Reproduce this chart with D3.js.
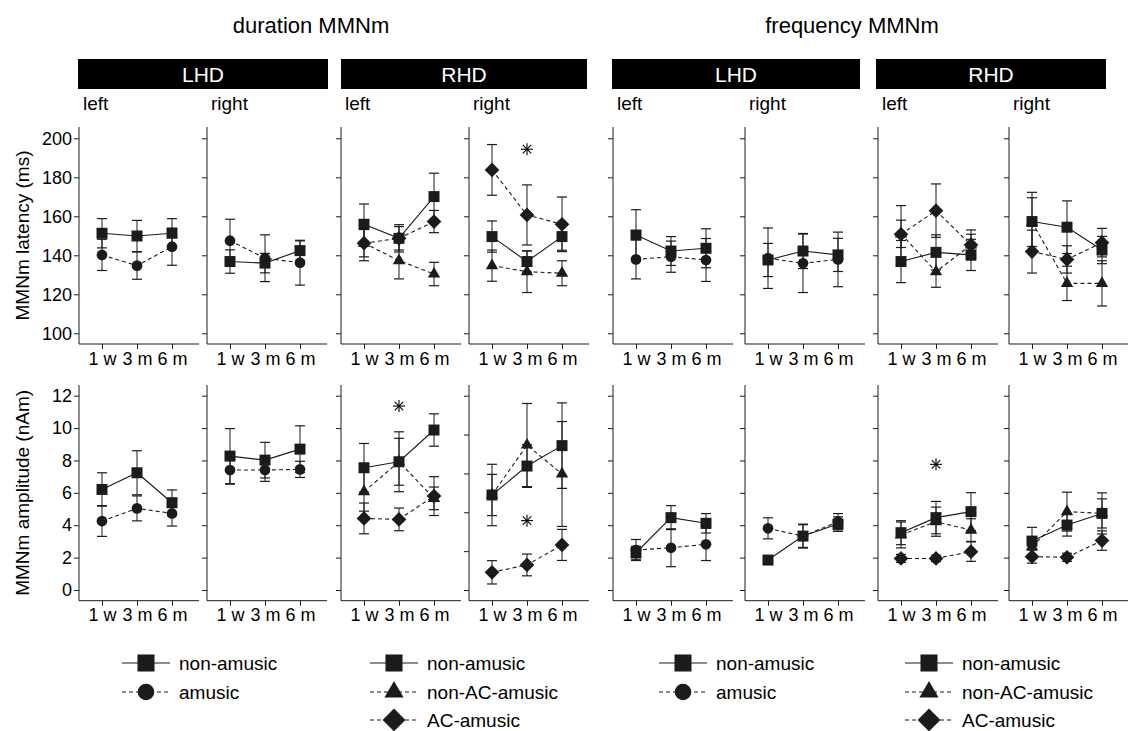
<!DOCTYPE html>
<html>
<head>
<meta charset="utf-8">
<script src="https://cdn.jsdelivr.net/npm/d3@7"></script>
<style>
  body { margin: 0; background: #fff; }
  svg { font-family: Arial, "Liberation Sans", sans-serif; }
</style>
</head>
<body>
<svg id="chart" width="1128" height="731"></svg>
<script>
// time points
const periods = ["1 w", "3 m", "6 m"]
const sides = ["left", "right", "left", "right", "left", "right", "left", "right"]
const groups = ["LHD", "RHD", "LHD", "RHD"]
const titles = ["duration MMNm", "frequency MMNm"]

// latency (ms), one entry per panel, null where the group is not in the panel
const latNonAmusic = [[151.3,149.9,151.3],[136.8,136,142.4],[155.9,148.7,170.1],[149.6,136.8,149.6],[150.4,142.2,143.6],[137.6,142.2,140.2],[136.8,141.5,140.2],[157.3,154.4,142.7]]
const latNonAmusicErr = [[7.5,8,7.5],[6,5,5],[10.4,7,12],[8,5.4,7],[13,7.4,10],[8.5,9,8.5],[10.8,9,8],[15,13.5,7]]
const latAmusic = [[140.2,134.7,144.4],[147.5,138.5,136.2],null,null,[137.9,139.3,137.6],[138.5,135.9,137.9],null,null]
const latAmusicErr = [[8,7,9.5],[11,12,11.5],null,null,[10,8,11],[15.5,15,14],null,null]
const latNonAC = [null,null,[146.2,137.3,130.4],[134.7,131.6,130.8],null,null,[151,131.6,145.3],[157,125.6,125.6]]
const latNonACErr = [null,null,[7,9.4,6],[8,10.7,6.4],null,null,[7,8,7.7],[12.5,8.8,11.6]]
const latAC = [null,null,[146.2,148.7,157.3],[183.8,160.7,155.9],null,null,[150.8,162.9,145.3],[141.9,137.9,146.5]]
const latACErr = [null,null,[9,6,5.7],[13,15.4,14],null,null,[14.7,13.7,5.5],[11,7,7.3]]
const latStars = [null,null,null,194.4,null,null,null,null]
const latTicks = [100,120,140,160,180,200]

// amplitude (nAm)
const ampNonAmusic = [[6.21,7.24,5.39],[8.27,8.02,8.7],[7.55,7.92,9.88],[4.89,6.38,7.43],[2.3,4.47,4.12],[1.85,3.33,4.07],[3.54,4.47,4.84],[3.02,4.01,4.73]]
const ampNonAmusicErr = [[1.03,1.36,0.79],[1.7,1.1,1.44],[1.5,1.85,1.0],[1.58,1.1,2.2],[0.4,0.74,0.6],[0.15,0.74,0.45],[0.74,1.0,1.17],[0.85,0.68,1.27]]
const ampAmusic = [[4.26,5.04,4.73],[7.41,7.41,7.45],null,null,[2.47,2.61,2.82],[3.81,3.33,4.22],null,null]
const ampAmusicErr = [[0.95,0.77,0.78],[0.87,0.7,0.5],null,null,[0.65,1.17,1.0],[0.65,0.7,0.5],null,null]
const ampNonAC = [null,null,[6.07,7.92,5.66],[4.89,7.46,5.97],null,null,[3.4,4.22,3.7],[2.67,4.84,4.73]]
const ampNonACErr = [null,null,[1.2,1.45,0.7],[1.06,2.14,2.7],null,null,[0.8,0.9,0.7],[0.6,1.2,0.9]]
const ampAC = [null,null,[4.42,4.36,5.8],[0.91,1.29,2.32],null,null,[1.95,1.95,2.37],[2.06,2.02,3.05]]
const ampACErr = [null,null,[0.95,0.7,1.2],[0.6,0.56,0.8],null,null,[0.25,0.2,0.6],[0.4,0.25,0.6]]
const ampStars = [null,null,11.36,3.57,null,null,7.76,null]
const ampTicks = [0,2,4,6,8,10,12]
const ampTicksShort = [0,2,4,6,8,10]   // the RHD right panel has its own axis

const legendGroups = [
  ["non-amusic", "amusic"],
  ["non-amusic", "non-AC-amusic", "AC-amusic"],
  ["non-amusic", "amusic"],
  ["non-amusic", "non-AC-amusic", "AC-amusic"]
]

const ink = "#1b1b1b"
const styles = {
  "non-amusic":    { shape: "square",   dash: null },
  "amusic":        { shape: "circle",   dash: "4,3" },
  "non-AC-amusic": { shape: "triangle", dash: "4,3" },
  "AC-amusic":     { shape: "diamond",  dash: "4,3" }
}

const svg = d3.select("#chart")
const panelX = [79, 207, 341, 469, 613, 745, 878, 1009]
const panelW = 120

function marker(g, shape, cx, cy, big) {
  const k = big ? 1.55 : 1
  let sym, rot = 0
  if (shape === "square") sym = d3.symbol(d3.symbolSquare, 121 * k * k)
  if (shape === "circle") sym = d3.symbol(d3.symbolCircle, 90 * k * k)
  if (shape === "triangle") sym = d3.symbol(d3.symbolTriangle, 66 * k * k)
  if (shape === "diamond") { sym = d3.symbol(d3.symbolSquare, 108 * k * k); rot = 45 }
  g.append("path")
    .attr("d", sym())
    .attr("transform", `translate(${cx},${cy}) rotate(${rot})`)
    .attr("fill", ink)
}

// asterisk like R's pch 8: a plus and a cross
function star(g, cx, cy) {
  const r = 6, d = r * Math.SQRT1_2
  ;[[-r, 0, r, 0], [0, -r, 0, r], [-d, -d, d, d], [-d, d, d, -d]].forEach(s => {
    g.append("line").attr("x1", cx + s[0]).attr("y1", cy + s[1]).attr("x2", cx + s[2]).attr("y2", cy + s[3])
      .attr("stroke", "#000").attr("stroke-width", 1.1)
  })
}

function drawRow(rowTop, rowBottom, yFor, series, stars, title) {
  panelX.forEach((px, p) => {
    const y = yFor(p)
    const x = d3.scalePoint().domain(periods).range([px + 23, px + 93])
    const g = svg.append("g")

    // axes
    g.append("line").attr("x1", px).attr("x2", px).attr("y1", rowTop).attr("y2", rowBottom)
      .attr("stroke", ink)
    g.append("line").attr("x1", px).attr("x2", px + panelW).attr("y1", rowBottom).attr("y2", rowBottom)
      .attr("stroke", ink)
    const ya = g.append("g").attr("transform", `translate(${px},0)`)
      .call(d3.axisLeft(y.scale).tickValues(y.ticks).tickSize(5).tickPadding(2)
        .tickFormat(p === 0 ? d3.format("d") : () => ""))
    const xa = g.append("g").attr("transform", `translate(0,${rowBottom})`)
      .call(d3.axisBottom(x).tickSize(5).tickPadding(3))
    ;[ya, xa].forEach(a => {
      a.select(".domain").remove()
      a.selectAll("line").attr("stroke", ink)
      a.selectAll("text").attr("font-size", 18).attr("fill", "#000").attr("font-family", "Arial, 'Liberation Sans', sans-serif")
    })

    const live = series.filter(s => s.mean[p])
    // lines
    live.forEach(s => {
      const line = d3.line().x((d, i) => x(periods[i])).y(d => y.scale(d))
      g.append("path").datum(s.mean[p]).attr("d", line)
        .attr("fill", "none").attr("stroke", ink).attr("stroke-width", 1.1)
        .attr("stroke-dasharray", styles[s.name].dash)
    })
    // error bars
    live.forEach(s => {
      s.mean[p].forEach((m, i) => {
        const e = s.err[p][i], cx = x(periods[i])
        const y1 = y.scale(m - e), y2 = y.scale(m + e)
        g.append("line").attr("x1", cx).attr("x2", cx).attr("y1", y1).attr("y2", y2).attr("stroke", ink)
        ;[y1, y2].forEach(yy => g.append("line").attr("x1", cx - 5).attr("x2", cx + 5)
          .attr("y1", yy).attr("y2", yy).attr("stroke", ink).attr("stroke-width", 1.2))
      })
    })
    // points
    live.forEach(s => {
      s.mean[p].forEach((m, i) => marker(g, styles[s.name].shape, x(periods[i]), y.scale(m)))
    })
    if (stars[p] != null) star(g, x("3 m"), y.scale(stars[p]))
  })
  svg.append("text")
    .attr("transform", `translate(29,${(rowTop + rowBottom) / 2}) rotate(-90)`)
    .attr("text-anchor", "middle").attr("font-size", 19).text(title)
}

// latency row
const latScale = d3.scaleLinear().domain([100, 200]).range([333.3, 138.3])
drawRow(127, 344, () => ({ scale: latScale, ticks: latTicks }), [
  { name: "non-amusic", mean: latNonAmusic, err: latNonAmusicErr },
  { name: "amusic", mean: latAmusic, err: latAmusicErr },
  { name: "non-AC-amusic", mean: latNonAC, err: latNonACErr },
  { name: "AC-amusic", mean: latAC, err: latACErr }
], latStars, "MMNm latency (ms)")

// amplitude row
const ampScale = d3.scaleLinear().domain([0, 12]).range([590, 395.7])
const ampScaleShort = d3.scaleLinear().domain([0, 10]).range([590, 395.7])
drawRow(385, 600.7, p => p === 3 ? { scale: ampScaleShort, ticks: ampTicksShort } : { scale: ampScale, ticks: ampTicks }, [
  { name: "non-amusic", mean: ampNonAmusic, err: ampNonAmusicErr },
  { name: "amusic", mean: ampAmusic, err: ampAmusicErr },
  { name: "non-AC-amusic", mean: ampNonAC, err: ampNonACErr },
  { name: "AC-amusic", mean: ampAC, err: ampACErr }
], ampStars, "MMNm amplitude (nAm)")

// headers
const titleX = [311, 852]
titles.forEach((t, i) => {
  svg.append("text").attr("x", titleX[i]).attr("y", 33).attr("text-anchor", "middle")
    .attr("font-size", 22).text(t)
})
const boxes = [[78, 328], [341, 587], [612, 860], [876, 1106]]
boxes.forEach((b, i) => {
  svg.append("rect").attr("x", b[0]).attr("y", 59).attr("width", b[1] - b[0]).attr("height", 30).attr("fill", "#000")
  svg.append("text").attr("x", (b[0] + b[1]) / 2).attr("y", 81.5).attr("text-anchor", "middle")
    .attr("font-size", 21).attr("fill", "#fff").text(groups[i])
})
panelX.forEach((px, p) => {
  svg.append("text").attr("x", px + 4).attr("y", 110).attr("font-size", 19).text(sides[p])
})

// legends
const legendX = [122, 370, 659, 905]
const rowY = [663, 692, 720]
legendGroups.forEach((items, li) => {
  const g = svg.append("g")
  items.forEach((name, r) => {
    const x0 = legendX[li], yy = rowY[r]
    g.append("line").attr("x1", x0).attr("x2", x0 + 48).attr("y1", yy).attr("y2", yy)
      .attr("stroke", ink).attr("stroke-width", 1.2).attr("stroke-dasharray", styles[name].dash)
    marker(g, styles[name].shape, x0 + 24, yy, true)
    g.append("text").attr("x", x0 + 57).attr("y", yy + 7).attr("font-size", 19).text(name)
  })
})
</script>
</body>
</html>
